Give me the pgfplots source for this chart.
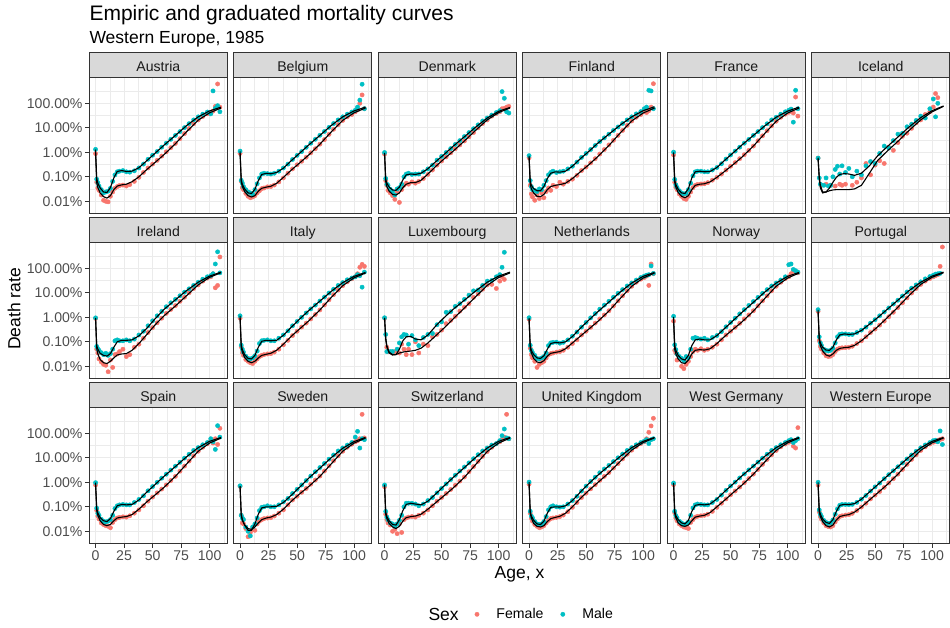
\documentclass[border=0pt]{standalone}
\usepackage{fontspec}
\setmainfont{Liberation Sans}
\usepackage{pgfplots}
\usepackage{pgfplotstable}
\pgfplotsset{compat=1.18}

\definecolor{fem}{HTML}{F8766D}
\definecolor{mal}{HTML}{00BFC4}
\definecolor{gray10}{HTML}{1A1A1A}
\definecolor{gray20}{HTML}{333333}
\definecolor{gray30}{HTML}{4D4D4D}
\definecolor{gray85}{HTML}{D9D9D9}
\definecolor{gray92}{HTML}{EBEBEB}

\newcommand{\fsTick}{\fontsize{14.1pt}{16pt}\selectfont}
\newcommand{\fsAxis}{\fontsize{17.5pt}{20pt}\selectfont}
\newcommand{\fsTitle}{\fontsize{21pt}{24pt}\selectfont}

% ---------- empirical death rates (in %), a = age ----------
\pgfplotstableread{
a f m
0 0.88 1.32
1 0.060 0.080
2 0.035 0.058
3 0.028 0.042
5 0.018 0.030
7 0.011 0.022
9 0.010 0.024
11 0.0095 0.026
13 0.016 0.034
15 0.024 0.065
17 0.034 0.12
19 0.040 0.16
21 0.044 0.17
24 0.046 0.18
27 0.042 0.16
30 0.048 0.155
34 0.065 0.175
38 0.095 0.23
42 0.15 0.33
46 0.23 0.52
50 0.33 0.76
54 0.47 1.08
58 0.70 1.62
62 1.05 2.35
66 1.55 3.4
70 2.3 4.9
74 3.6 7.0
78 5.8 10.2
82 9.3 14.8
86 14.5 21
90 21 28
94 29 36
98 37 44
101 40 37
103 48 320
105 75 62
107 615 80
109 70 45
}\ptAT
\pgfplotstableread{
a F M
0 0.90 1.30
1 0.058 0.085
2 0.036 0.055
4 0.022 0.035
7 0.0155 0.024
10 0.0135 0.023
13 0.017 0.036
16 0.030 0.09
19 0.042 0.165
23 0.047 0.18
27 0.050 0.165
32 0.063 0.17
38 0.10 0.235
45 0.20 0.46
52 0.38 0.90
60 0.80 1.95
70 2.25 4.9
80 7.1 12.5
90 20.5 28
100 41 49
110 64 70
}\fitAT

\pgfplotstableread{
a f m
0 0.90 1.12
1 0.066 0.072
2 0.036 0.055
3 0.030 0.040
5 0.021 0.030
7 0.016 0.024
9 0.014 0.022
11 0.015 0.020
13 0.017 0.030
15 0.022 0.052
17 0.027 0.09
19 0.033 0.13
21 0.035 0.14
24 0.039 0.135
27 0.040 0.13
30 0.046 0.14
34 0.062 0.17
38 0.090 0.23
42 0.14 0.33
46 0.21 0.51
50 0.31 0.75
54 0.43 1.07
58 0.63 1.60
62 0.95 2.35
66 1.40 3.4
70 2.15 4.95
74 3.3 7.1
78 5.4 10.4
82 8.7 14.9
86 13.5 21
90 20 28
94 28 36
98 35 44
101 45 52
103 55 70
105 100 135
107 220 600
109 60 60
}\ptBE
\pgfplotstableread{
a F M
0 0.92 1.10
1 0.062 0.075
2 0.040 0.050
4 0.025 0.032
7 0.017 0.022
10 0.015 0.021
13 0.017 0.031
16 0.026 0.07
19 0.034 0.125
23 0.038 0.138
27 0.041 0.133
32 0.054 0.15
38 0.095 0.225
45 0.19 0.46
52 0.36 0.90
60 0.76 1.95
70 2.15 4.9
80 6.8 12.5
90 20 28
100 41 49
110 64 70
}\fitBE

\pgfplotstableread{
a f m
0 0.84 0.98
1 0.07 0.085
2 0.045 0.05
3 0.028 0.045
5 0.022 0.031
7 0.017 0.025
9 0.012 0.018
11 0.024 0.032
13 0.009 0.036
15 0.030 0.05
17 0.045 0.10
19 0.055 0.13
21 0.050 0.14
24 0.062 0.125
27 0.055 0.13
30 0.065 0.13
34 0.085 0.16
38 0.125 0.21
42 0.19 0.30
46 0.30 0.48
50 0.44 0.68
54 0.65 0.98
58 0.95 1.42
62 1.40 2.1
66 2.0 3.0
70 2.9 4.4
74 4.3 6.4
78 6.4 9.2
82 10.0 13.2
86 15 19
90 21 25
94 30 33
98 38 42
101 45 50
103 60 300
105 62 160
107 70 45
109 75 40
}\ptDK
\pgfplotstableread{
a F M
0 0.85 0.95
1 0.065 0.08
2 0.040 0.055
4 0.026 0.038
7 0.019 0.029
10 0.018 0.028
13 0.022 0.038
16 0.036 0.075
19 0.050 0.12
23 0.058 0.13
27 0.058 0.125
32 0.072 0.14
38 0.13 0.215
45 0.27 0.42
52 0.53 0.80
60 1.10 1.75
70 2.9 4.3
80 8.0 10.8
90 21 25
100 42 47
110 64 68
}\fitDK

\pgfplotstableread{
a f m
0 0.60 0.73
1 0.045 0.07
2 0.020 0.04
3 0.015 0.030
5 0.011 0.028
7 0.018 0.025
9 0.013 0.032
11 0.022 0.030
13 0.014 0.045
15 0.025 0.07
17 0.035 0.12
19 0.028 0.15
21 0.045 0.17
24 0.040 0.15
27 0.060 0.16
30 0.050 0.17
34 0.065 0.21
38 0.080 0.27
42 0.115 0.40
46 0.18 0.62
50 0.25 0.90
54 0.37 1.30
58 0.55 1.90
62 0.85 2.75
66 1.30 3.9
70 2.0 5.5
74 3.1 7.8
78 4.9 10.8
82 7.8 15
86 12.5 21
90 19 28
94 27 37
98 35 46
101 45 60
103 42 70
105 50 340
107 70 320
109 630 60
}\ptFI
\pgfplotstableread{
a F M
0 0.62 0.72
1 0.05 0.065
2 0.032 0.045
4 0.022 0.033
7 0.016 0.027
10 0.0155 0.027
13 0.019 0.04
16 0.030 0.085
19 0.040 0.14
23 0.045 0.16
27 0.048 0.155
32 0.055 0.17
38 0.085 0.27
45 0.16 0.55
52 0.30 1.05
60 0.65 2.3
70 1.9 5.5
80 6.2 13
90 19 28
100 40 50
110 64 72
}\fitFI

\pgfplotstableread{
a f m
0 0.78 1.02
1 0.060 0.078
2 0.038 0.047
3 0.030 0.037
5 0.020 0.027
7 0.016 0.022
9 0.013 0.020
11 0.012 0.021
13 0.016 0.030
15 0.024 0.055
17 0.036 0.11
19 0.045 0.16
21 0.049 0.17
24 0.051 0.17
27 0.052 0.16
30 0.058 0.16
34 0.073 0.19
38 0.095 0.24
42 0.13 0.34
46 0.19 0.53
50 0.27 0.78
54 0.38 1.12
58 0.55 1.62
62 0.80 2.35
66 1.20 3.35
70 1.80 4.9
74 2.95 7.0
78 4.7 10.2
82 7.6 14.6
86 12.0 21
90 18.5 27
94 27 36
98 36 45
101 43 52
103 49 58
105 40 17
107 180 340
109 30 60
}\ptFR
\pgfplotstableread{
a F M
0 0.78 1.0
1 0.060 0.075
2 0.038 0.048
4 0.023 0.031
7 0.016 0.022
10 0.014 0.021
13 0.017 0.033
16 0.03 0.09
19 0.045 0.16
23 0.05 0.17
27 0.052 0.16
32 0.062 0.165
38 0.095 0.24
45 0.17 0.48
52 0.31 0.93
60 0.64 2.0
70 1.8 4.9
80 5.9 12
90 18.5 27
100 40 48
110 64 70
}\fitFR

\pgfplotstableread{
a f m
0 0.58 0.58
1 nan 0.09
2 nan 0.05
3 0.045 nan
5 nan 0.045
7 0.05 0.09
9 nan 0.042
11 0.045 0.045
13 nan 0.10
15 0.042 0.2
17 nan 0.27
19 0.05 0.13
21 0.045 0.28
24 0.05 0.15
27 nan 0.22
30 0.045 0.10
34 0.06 0.17
38 0.09 0.12
42 0.35 0.28
46 0.12 0.42
50 0.30 0.35
54 0.45 0.9
58 0.35 1.8
62 1.6 1.5
66 1.2 3.0
70 2.5 5.5
74 4.5 6.0
78 6.0 11
82 9.5 14
86 16 20
90 21 30
94 35 25
98 45 60
101 70 150
103 250 28
105 170 100
107 nan nan
109 nan nan
}\ptIS
\pgfplotstableread{
a F M
0 0.55 0.60
1 0.09 0.10
2 0.035 0.045
4 0.022 0.024
7 0.024 0.024
10 0.027 0.035
13 0.029 0.06
16 0.030 0.095
19 0.030 0.125
23 0.030 0.135
27 0.030 0.13
32 0.032 0.115
38 0.045 0.14
45 0.14 0.28
52 0.45 0.70
60 1.05 1.6
70 2.8 4.2
80 8.0 11
90 21 26
100 45 50
110 75 78
}\fitIS

\pgfplotstableread{
a f m
0 0.90 0.95
1 0.05 0.065
2 0.035 0.052
3 0.020 0.045
5 0.015 0.036
7 0.012 0.030
9 0.011 0.034
11 0.006 0.028
13 0.018 0.033
15 0.009 0.050
17 0.030 0.11
19 0.032 0.12
21 0.040 0.11
24 0.050 0.11
27 0.025 0.12
30 0.030 0.11
34 0.060 0.13
38 0.080 0.19
42 0.14 0.27
46 0.24 0.45
50 0.38 0.72
54 0.60 1.15
58 0.92 1.75
62 1.45 2.7
66 2.1 3.9
70 3.0 5.4
74 4.5 7.6
78 6.6 10.6
82 10 14.5
86 15 20
90 21 27
94 30 36
98 40 45
101 45 50
103 60 60
105 16 150
107 20 470
109 290 65
}\ptIE
\pgfplotstableread{
a F M
0 0.90 0.95
1 0.055 0.07
2 0.032 0.05
4 0.019 0.034
7 0.014 0.028
10 0.013 0.026
13 0.016 0.033
16 0.022 0.06
19 0.029 0.10
23 0.032 0.115
27 0.033 0.115
32 0.045 0.12
38 0.085 0.175
45 0.2 0.36
52 0.48 0.85
60 1.15 2.1
70 2.9 5.2
80 7.8 12.5
90 21 27
100 43 48
110 66 70
}\fitIE

\pgfplotstableread{
a f m
0 0.93 1.15
1 0.062 0.073
2 0.036 0.05
3 0.028 0.038
5 0.019 0.026
7 0.016 0.021
9 0.014 0.020
11 0.013 0.022
13 0.016 0.027
15 0.020 0.042
17 0.025 0.085
19 0.028 0.11
21 0.030 0.115
24 0.032 0.12
27 0.033 0.11
30 0.038 0.11
34 0.050 0.14
38 0.075 0.19
42 0.115 0.28
46 0.18 0.45
50 0.27 0.68
54 0.40 1.0
58 0.58 1.5
62 0.86 2.2
66 1.30 3.15
70 2.0 4.6
74 3.2 6.7
78 5.2 9.8
82 8.4 14
86 13 20
90 19.5 26
94 28 34
98 37 40
101 45 45
103 60 55
105 110 50
107 145 17
109 120 70
}\ptIT
\pgfplotstableread{
a F M
0 0.95 1.15
1 0.060 0.075
2 0.038 0.048
4 0.023 0.030
7 0.016 0.021
10 0.014 0.020
13 0.016 0.028
16 0.022 0.06
19 0.028 0.105
23 0.031 0.115
27 0.034 0.11
32 0.045 0.115
38 0.08 0.185
45 0.17 0.40
52 0.33 0.83
60 0.70 1.85
70 2.0 4.6
80 6.5 11.5
90 19.5 26
100 41 47
110 64 68
}\fitIT

\pgfplotstableread{
a f m
0 0.92 0.96
1 nan 0.20
2 0.06 0.04
3 0.04 nan
5 nan 0.04
7 0.035 0.04
9 0.04 nan
11 nan 0.05
13 0.035 0.09
15 0.08 0.16
17 0.05 0.20
19 0.03 0.19
21 0.05 0.08
24 0.03 0.18
27 0.10 0.12
30 0.035 0.07
34 0.08 0.15
38 0.07 0.20
42 0.16 0.22
46 0.20 0.50
50 0.30 0.65
54 0.55 1.6
58 0.75 1.7
62 1.1 2.8
66 1.8 3.6
70 2.6 5.4
74 3.6 8.0
78 6.5 12
82 9.0 13
86 14 20
90 21 30
94 22 32
98 15 45
101 30 55
103 45 110
105 35 450
107 nan nan
109 nan nan
}\ptLU
\pgfplotstableread{
a F M
0 0.95 0.95
1 0.12 0.15
2 0.06 0.07
4 0.035 0.038
7 0.029 0.030
10 0.03 0.030
13 0.035 0.05
16 0.038 0.11
19 0.040 0.16
23 0.042 0.165
27 0.045 0.13
32 0.055 0.12
38 0.09 0.19
45 0.18 0.45
52 0.36 0.95
60 0.85 2.1
70 2.4 5.0
80 7.0 12
90 20 27
100 42 48
110 65 70
}\fitLU

\pgfplotstableread{
a f m
0 0.84 0.96
1 0.055 0.072
2 0.030 0.045
3 0.022 0.036
5 0.016 0.028
7 0.009 0.021
9 0.012 0.020
11 0.014 0.022
13 0.016 0.025
15 0.022 0.035
17 0.030 0.07
19 0.033 0.09
21 0.035 0.095
24 0.038 0.097
27 0.040 0.088
30 0.045 0.095
34 0.060 0.12
38 0.085 0.17
42 0.12 0.25
46 0.19 0.40
50 0.27 0.62
54 0.39 0.95
58 0.58 1.42
62 0.86 2.15
66 1.25 3.15
70 1.85 4.5
74 2.9 6.6
78 4.7 9.6
82 7.5 13.5
86 12 19
90 18.5 25
94 27 33
98 36 42
101 42 48
103 48 52
105 20 55
107 150 125
109 60 62
}\ptNL
\pgfplotstableread{
a F M
0 0.85 0.95
1 0.055 0.07
2 0.035 0.045
4 0.021 0.030
7 0.015 0.022
10 0.014 0.021
13 0.017 0.027
16 0.026 0.05
19 0.034 0.085
23 0.037 0.095
27 0.040 0.09
32 0.052 0.10
38 0.09 0.165
45 0.17 0.36
52 0.32 0.74
60 0.66 1.65
70 1.8 4.2
80 5.9 10.8
90 18.5 25
100 40 47
110 64 68
}\fitNL

\pgfplotstableread{
a f m
0 0.70 1.10
1 0.045 0.075
2 0.035 0.048
3 0.018 0.032
5 0.022 0.025
7 0.010 0.021
9 0.008 0.017
11 0.012 0.025
13 0.016 0.022
15 0.025 0.05
17 0.040 0.14
19 0.050 0.15
21 0.045 0.14
24 0.052 0.13
27 0.045 0.14
30 0.050 0.12
34 0.060 0.15
38 0.080 0.18
42 0.12 0.26
46 0.19 0.41
50 0.27 0.62
54 0.39 0.92
58 0.57 1.38
62 0.86 2.05
66 1.25 3.05
70 1.85 4.4
74 2.95 6.5
78 4.7 9.5
82 7.5 13.5
86 12 19
90 18.5 25
94 27 33
98 38 45
101 45 140
103 60 150
105 80 90
107 70 80
109 65 70
}\ptNO
\pgfplotstableread{
a F M
0 0.72 1.05
1 0.05 0.07
2 0.032 0.045
4 0.02 0.028
7 0.014 0.020
10 0.013 0.018
13 0.018 0.028
16 0.032 0.07
19 0.045 0.12
23 0.048 0.13
27 0.046 0.12
32 0.052 0.12
38 0.085 0.18
45 0.17 0.36
52 0.32 0.72
60 0.65 1.6
70 1.8 4.1
80 5.9 10.8
90 18.5 25
100 40 47
110 64 68
}\fitNO

\pgfplotstableread{
a f m
0 1.75 2.05
1 0.11 0.16
2 0.065 0.09
3 0.05 0.07
5 0.035 0.05
7 0.027 0.045
9 0.025 0.042
11 0.026 0.045
13 0.030 0.055
15 0.040 0.09
17 0.050 0.16
19 0.055 0.20
21 0.057 0.21
24 0.058 0.21
27 0.060 0.20
30 0.066 0.20
34 0.085 0.24
38 0.11 0.30
42 0.16 0.40
46 0.24 0.58
50 0.33 0.80
54 0.48 1.15
58 0.70 1.65
62 1.05 2.4
66 1.6 3.5
70 2.5 5.0
74 3.9 7.4
78 6.2 10.8
82 9.8 15.5
86 15 21
90 22 28
94 30 37
98 38 46
101 45 52
103 50 58
105 55 60
107 120 62
109 740 nan
}\ptPT
\pgfplotstableread{
a F M
0 1.7 2.0
1 0.12 0.14
2 0.07 0.09
4 0.042 0.06
7 0.029 0.046
10 0.026 0.045
13 0.032 0.06
16 0.045 0.12
19 0.054 0.19
23 0.058 0.21
27 0.06 0.2
32 0.072 0.21
38 0.11 0.29
45 0.21 0.52
52 0.40 0.95
60 0.90 2.0
70 2.6 5.0
80 8.0 12.5
90 22 27
100 43 48
110 66 70
}\fitPT

\pgfplotstableread{
a f m
0 0.78 0.97
1 0.072 0.088
2 0.042 0.055
3 0.032 0.045
5 0.022 0.031
7 0.019 0.026
9 0.017 0.024
11 0.016 0.026
13 0.014 0.030
15 0.023 0.045
17 0.030 0.085
19 0.035 0.11
21 0.037 0.12
24 0.039 0.125
27 0.038 0.12
30 0.043 0.12
34 0.055 0.15
38 0.075 0.20
42 0.11 0.28
46 0.17 0.45
50 0.25 0.67
54 0.37 1.0
58 0.53 1.48
62 0.78 2.15
66 1.18 3.15
70 1.75 4.55
74 2.85 6.6
78 4.6 9.7
82 7.4 14
86 12 20
90 18.5 26
94 27 34
98 37 42
101 50 60
103 40 45
105 60 22
107 35 205
109 160 70
}\ptES
\pgfplotstableread{
a F M
0 0.80 0.98
1 0.07 0.085
2 0.045 0.055
4 0.027 0.036
7 0.019 0.027
10 0.017 0.025
13 0.019 0.033
16 0.027 0.065
19 0.035 0.11
23 0.038 0.125
27 0.040 0.12
32 0.048 0.125
38 0.08 0.19
45 0.16 0.40
52 0.30 0.80
60 0.62 1.75
70 1.75 4.4
80 5.7 11.2
90 18.5 26
100 40 47
110 64 68
}\fitES

\pgfplotstableread{
a f m
0 0.68 0.72
1 0.045 0.045
2 0.022 0.035
3 0.020 0.030
5 0.013 0.015
7 0.006 0.010
9 0.009 0.0065
11 0.012 0.015
13 0.011 0.020
15 0.020 0.035
17 0.026 0.07
19 0.030 0.095
21 0.033 0.10
24 0.035 0.11
27 0.036 0.10
30 0.042 0.10
34 0.055 0.12
38 0.075 0.16
42 0.12 0.22
46 0.19 0.35
50 0.27 0.52
54 0.39 0.78
58 0.56 1.18
62 0.84 1.8
66 1.24 2.7
70 1.8 4.0
74 2.9 5.9
78 4.7 8.8
82 7.6 13
86 12 19
90 18.5 25
94 27 33
98 36 42
101 45 70
103 50 120
105 60 25
107 595 60
109 65 55
}\ptSE
\pgfplotstableread{
a F M
0 0.68 0.70
1 0.045 0.05
2 0.028 0.03
4 0.018 0.018
7 0.013 0.011
10 0.012 0.011
13 0.015 0.02
16 0.022 0.05
19 0.030 0.09
23 0.035 0.10
27 0.038 0.10
32 0.048 0.105
38 0.08 0.15
45 0.17 0.30
52 0.33 0.62
60 0.66 1.45
70 1.75 3.8
80 5.7 10.2
90 18.5 24.5
100 40 46
110 64 68
}\fitSE

\pgfplotstableread{
a f m
0 0.66 0.78
1 0.05 0.065
2 0.030 0.038
3 0.022 0.030
5 0.018 0.022
7 0.010 0.020
9 0.012 0.016
11 0.008 0.020
13 0.020 0.028
15 0.009 0.045
17 0.030 0.10
19 0.035 0.14
21 0.038 0.14
24 0.040 0.14
27 0.038 0.13
30 0.045 0.11
34 0.055 0.13
38 0.075 0.18
42 0.11 0.24
46 0.17 0.37
50 0.24 0.56
54 0.35 0.86
58 0.51 1.30
62 0.76 1.95
66 1.12 2.9
70 1.65 4.2
74 2.7 6.2
78 4.4 9.2
82 7.2 13.4
86 11.5 19
90 18 25
94 27 33
98 37 38
101 45 50
103 55 80
105 70 150
107 595 65
109 60 60
}\ptCH
\pgfplotstableread{
a F M
0 0.68 0.80
1 0.05 0.06
2 0.033 0.04
4 0.021 0.027
7 0.015 0.019
10 0.013 0.018
13 0.016 0.03
16 0.026 0.07
19 0.036 0.125
23 0.040 0.14
27 0.042 0.13
32 0.050 0.12
38 0.08 0.17
45 0.15 0.34
52 0.28 0.70
60 0.58 1.55
70 1.6 4.0
80 5.4 10.5
90 18 25
100 40 47
110 64 68
}\fitCH

\pgfplotstableread{
a f m
0 0.84 1.02
1 0.055 0.066
2 0.034 0.042
3 0.026 0.035
5 0.019 0.025
7 0.016 0.020
9 0.014 0.019
11 0.015 0.020
13 0.017 0.025
15 0.022 0.040
17 0.028 0.075
19 0.033 0.10
21 0.035 0.11
24 0.037 0.10
27 0.040 0.097
30 0.046 0.10
34 0.063 0.13
38 0.095 0.18
42 0.15 0.27
46 0.24 0.44
50 0.36 0.70
54 0.54 1.08
58 0.80 1.62
62 1.20 2.45
66 1.75 3.5
70 2.5 4.9
74 3.8 7.0
78 5.8 10.0
82 9.0 14.2
86 14 20
90 20.5 26
94 29 34
98 38 42
101 45 48
103 60 55
105 110 38
107 200 55
109 410 60
}\ptUK
\pgfplotstableread{
a F M
0 0.85 1.02
1 0.055 0.065
2 0.035 0.042
4 0.021 0.028
7 0.016 0.020
10 0.015 0.019
13 0.017 0.026
16 0.025 0.055
19 0.033 0.095
23 0.037 0.10
27 0.041 0.098
32 0.055 0.11
38 0.10 0.18
45 0.22 0.40
52 0.45 0.85
60 0.95 1.9
70 2.45 4.7
80 7.2 11.5
90 20.5 26
100 42 47
110 65 68
}\fitUK

\pgfplotstableread{
a f m
0 0.80 0.93
1 0.057 0.066
2 0.035 0.044
3 0.027 0.036
5 0.020 0.026
7 0.017 0.022
9 0.015 0.019
11 0.014 0.020
13 0.013 0.024
15 0.023 0.045
17 0.030 0.09
19 0.038 0.12
21 0.041 0.13
24 0.043 0.125
27 0.045 0.12
30 0.050 0.12
34 0.065 0.15
38 0.095 0.20
42 0.14 0.30
46 0.21 0.47
50 0.31 0.71
54 0.44 1.02
58 0.64 1.50
62 0.96 2.2
66 1.42 3.2
70 2.15 4.6
74 3.35 6.7
78 5.4 9.7
82 8.6 14
86 13.3 20
90 20 26
94 28 34
98 36.5 42
101 43 50
103 47 55
105 30 42
107 25 50
109 170 60
}\ptWG
\pgfplotstableread{
a F M
0 0.82 0.95
1 0.055 0.065
2 0.036 0.043
4 0.022 0.03
7 0.017 0.022
10 0.016 0.020
13 0.018 0.028
16 0.027 0.065
19 0.038 0.115
23 0.042 0.125
27 0.045 0.12
32 0.058 0.13
38 0.10 0.21
45 0.19 0.43
52 0.37 0.84
60 0.77 1.85
70 2.15 4.6
80 6.8 11.5
90 20 26
100 41 47
110 64 68
}\fitWG

\pgfplotstableread{
a f m
0 0.78 1.0
1 0.062 0.075
2 0.040 0.050
3 0.031 0.040
5 0.022 0.028
7 0.017 0.023
9 0.0155 0.021
11 0.015 0.022
13 0.017 0.029
15 0.024 0.05
17 0.032 0.082
19 0.040 0.115
21 0.043 0.125
24 0.046 0.125
27 0.048 0.123
30 0.054 0.126
34 0.071 0.152
38 0.098 0.205
42 0.14 0.29
46 0.21 0.44
50 0.30 0.65
54 0.42 0.93
58 0.62 1.40
62 0.94 2.05
66 1.4 2.95
70 2.15 4.3
74 3.35 6.2
78 5.4 9.0
82 8.6 13.0
86 13.3 18.5
90 20 25.5
94 28 33.5
98 36.5 42
101 43 50
103 47 52
105 52 45
107 56 125
109 60 35
}\ptWE
\pgfplotstableread{
a F M
0 0.78 1.00
1 0.062 0.075
2 0.040 0.050
4 0.025 0.032
7 0.017 0.023
10 0.015 0.021
13 0.018 0.030
16 0.029 0.065
19 0.040 0.115
23 0.045 0.126
27 0.048 0.123
32 0.061 0.135
38 0.098 0.205
45 0.19 0.40
52 0.36 0.78
60 0.76 1.70
70 2.15 4.3
80 6.8 11.0
90 20.0 25.5
100 41 47
110 64 68
}\fitWE

\pgfplotsset{
  % shared frame of every panel
  frame/.style={
    scale only axis, width=138pt, height=136pt,
    xmin=-5.5, xmax=115.5,
    ymin=0.00324, ymax=1150,
  },
  facet/.style={
    frame,
    axis line style={draw=gray20, line width=0.8pt},
    xtick={0,25,50,75,100}, xticklabels={0,25,50,75,100},
    minor xtick={12.5,37.5,62.5,87.5,112.5},
    ytick={0.01,0.1,1,10,100},
    yticklabels={0.01\%,0.10\%,1.00\%,10.00\%,100.00\%},
    minor ytick={0.0316,0.316,3.16,31.6,316},
    grid=both,
    major grid style={draw=gray92, line width=1pt},
    minor grid style={draw=gray92, line width=0.5pt},
    tick align=outside, major tick length=4.4pt, minor tick length=0pt,
    tick style={draw=gray20, line width=0.9pt},
    xtick pos=left, ytick pos=left,
    xmajorticks=false, ymajorticks=false,
    tick label style={font=\fsTick, text=gray30},
    xticklabel style={inner sep=0pt, anchor=north, yshift=-3pt},
    yticklabel style={inner sep=0pt, anchor=east, xshift=-2.2pt},
  },
  fpts/.style={only marks, mark=*, mark size=2.15pt, color=fem, mark options={draw=none, fill=fem}},
  mpts/.style={only marks, mark=*, mark size=2.15pt, color=mal, mark options={draw=none, fill=mal}},
  fitline/.style={black, line width=1.1pt, no markers},
}

% one facet: column, row, strip text, points, fitted curve, axis options, extra code
\newcommand{\facet}[7]{%
  \pgfmathsetmacro{\fx}{89.3+144.5*#1}%
  \pgfmathsetmacro{\fy}{77.3+165*#2}%
  \begin{semilogyaxis}[facet, at={(\fx pt,-\fy pt)}, anchor=north west, #6]
    #7
    \addplot[fpts] table[x=a, y=f] {#4};
    \addplot[mpts] table[x=a, y=m] {#4};
  \end{semilogyaxis}
  % graduated curves, drawn over the points in the same frame
  \begin{semilogyaxis}[frame, hide axis, at={(\fx pt,-\fy pt)}, anchor=north west]
    \addplot[fitline] table[x=a, y=F] {#5};
    \addplot[fitline] table[x=a, y=M] {#5};
  \end{semilogyaxis}
  \draw[fill=gray85, draw=gray20, line width=0.8pt] (\fx pt,-\fy pt) rectangle ++(138pt,24.6pt);
  \node[anchor=base, font=\fsTick, text=gray10, inner sep=0pt] at (\fx pt+69pt,-\fy pt+6.3pt) {#3};
}

\begin{document}
\begin{tikzpicture}
\useasboundingbox (0,0) rectangle (950pt,-627pt);

\node[anchor=base west, inner sep=0pt, font=\fsTitle] at (89.3pt,-20.7pt) {Empiric and graduated mortality curves};
\node[anchor=base west, inner sep=0pt, font=\fsAxis] at (89.3pt,-43.3pt) {Western Europe, 1985};

\facet{0}{0}{Austria}{\ptAT}{\fitAT}{ymajorticks=true}{}
\facet{1}{0}{Belgium}{\ptBE}{\fitBE}{}{}
\facet{2}{0}{Denmark}{\ptDK}{\fitDK}{}{}
\facet{3}{0}{Finland}{\ptFI}{\fitFI}{}{}
\facet{4}{0}{France}{\ptFR}{\fitFR}{}{}
\facet{5}{0}{Iceland}{\ptIS}{\fitIS}{}{}

\facet{0}{1}{Ireland}{\ptIE}{\fitIE}{ymajorticks=true}{}
\facet{1}{1}{Italy}{\ptIT}{\fitIT}{}{}
\facet{2}{1}{Luxembourg}{\ptLU}{\fitLU}{}{}
\facet{3}{1}{Netherlands}{\ptNL}{\fitNL}{}{}
\facet{4}{1}{Norway}{\ptNO}{\fitNO}{}{}
\facet{5}{1}{Portugal}{\ptPT}{\fitPT}{}{}

\facet{0}{2}{Spain}{\ptES}{\fitES}{ymajorticks=true, xmajorticks=true}{}
\facet{1}{2}{Sweden}{\ptSE}{\fitSE}{xmajorticks=true}{}
\facet{2}{2}{Switzerland}{\ptCH}{\fitCH}{xmajorticks=true}{}
\facet{3}{2}{United Kingdom}{\ptUK}{\fitUK}{xmajorticks=true}{}
\facet{4}{2}{West Germany}{\ptWG}{\fitWG}{xmajorticks=true}{}
\facet{5}{2}{Western Europe}{\ptWE}{\fitWE}{xmajorticks=true,
  legend style={draw=none, fill=none, inner sep=0pt, legend columns=-1,
    at={(axis description cs:-2.443,-0.522)}, anchor=west,
    font=\fsTick, text=black,
    /tikz/every odd column/.style={column sep=15.3pt},
    /tikz/every even column/.style={column sep=15.2pt}}}{%
  \addlegendimage{fpts}\addlegendentry{Female}
  \addlegendimage{mpts}\addlegendentry{Male}}

\node[anchor=base west, inner sep=0pt, font=\fsAxis] at (428.3pt,-620.5pt) {Sex};
\node[rotate=90, anchor=center, font=\fsAxis] at (14pt,-309pt) {Death rate};
\node[anchor=base, inner sep=0pt, font=\fsAxis] at (519.5pt,-578.3pt) {Age, x};
\end{tikzpicture}
\end{document}
